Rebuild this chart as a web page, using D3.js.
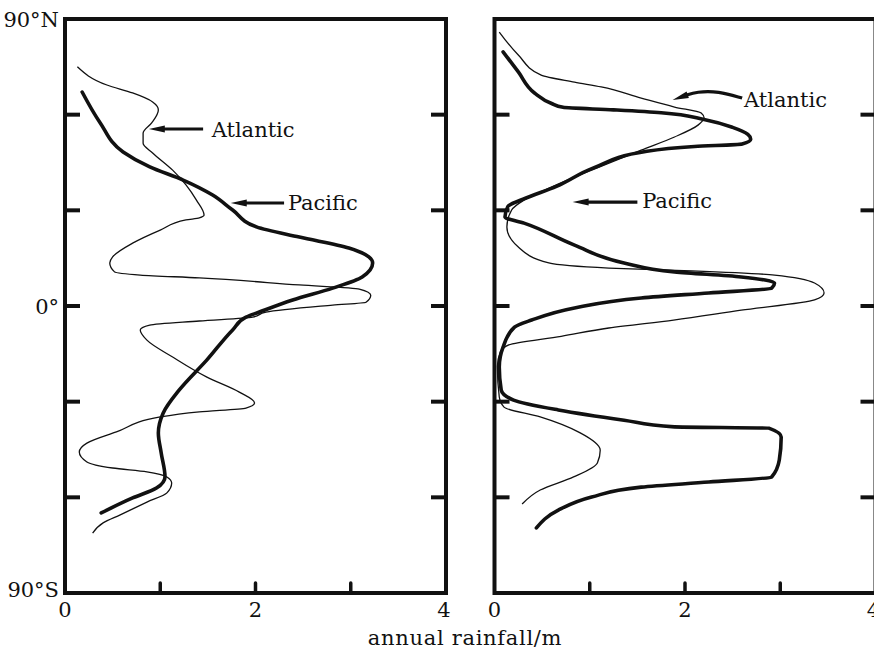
<!DOCTYPE html>
<html>
<head>
<meta charset="utf-8">
<script src="https://cdn.jsdelivr.net/npm/d3@7"></script>
<style>
  body { margin: 0; background: #fff; }
  text { font-family: "DejaVu Serif", "Liberation Serif", serif; fill: #111; }
</style>
</head>
<body>
<div id="chart"></div>
<script>
const width = 874;
const height = 652;

// ----- data: latitude (deg) and annual rainfall (m) ----- //
const leftAtlanticLat = [75, 69.3, 66.8, 64, 61.5, 57.4, 54.2, 51, 48, 42.6, 38, 33.2, 28.5, 27.6, 27, 23.8, 19.7, 15.4, 13.5, 10.7, 9.7, 8.8, 6.6, 5.3, 3.4, 1.2, 0.3, -1.9, -3.5, -4.7, -6, -7.5, -10.7, -16, -22.3, -27, -30.4, -32, -33.2, -34.8, -39.5, -43, -45.8, -48.9, -50.8, -52, -53.6, -55.5, -58.6, -61.5, -65.5, -68, -71.2];
const leftAtlantic = [0.13, 0.44, 0.71, 0.92, 0.98, 0.91, 0.82, 0.82, 0.92, 1.13, 1.27, 1.38, 1.46, 1.41, 1.27, 1.0, 0.71, 0.5, 0.47, 0.52, 0.79, 1.41, 2.46, 3.09, 3.21, 3.16, 2.81, 2.11, 1.97, 1.41, 0.89, 0.79, 0.86, 1.13, 1.49, 1.83, 1.99, 1.9, 1.41, 1.0, 0.54, 0.23, 0.15, 0.23, 0.5, 0.86, 1.07, 1.12, 1.07, 0.86, 0.58, 0.4, 0.29];

const leftPacificLat = [67.1, 57.4, 48.3, 43.6, 39.5, 34.8, 30.1, 24.8, 21.6, 18.2, 15.4, 13.5, 9.1, 5.6, 1.9, -1.9, -3.5, -7.5, -16.9, -26.3, -33.6, -39.8, -46.1, -53.6, -57.1, -60.2, -64.9];
const leftPacific = [0.18, 0.37, 0.61, 0.89, 1.24, 1.55, 1.76, 2.01, 2.46, 2.98, 3.19, 3.23, 3.12, 2.81, 2.39, 2.04, 1.9, 1.76, 1.49, 1.2, 1.03, 0.98, 1.01, 1.05, 0.96, 0.71, 0.38];

const rightAtlanticLat = [85.9, 78.7, 72.4, 70.2, 68.7, 65.2, 62.4, 60.5, 59, 56.8, 53, 48.9, 42.6, 37.3, 33.2, 30.1, 24.8, 18.5, 13.5, 11.9, 11.0, 9.7, 7.2, 4.1, 1.9, -1.3, -4.4, -6.9, -9.5, -12.2, -14.5, -19, -28.5, -31.7, -34.8, -39.8, -45.2, -49.2, -53.6, -57.7, -62.1];
const rightAtlantic = [0.05, 0.25, 0.49, 0.84, 1.12, 1.54, 1.89, 2.17, 2.2, 2.14, 1.89, 1.54, 1.02, 0.6, 0.31, 0.18, 0.13, 0.25, 0.57, 1.2, 2.07, 2.94, 3.36, 3.46, 3.36, 2.59, 1.88, 1.2, 0.7, 0.15, 0.06, 0.03, 0.05, 0.1, 0.48, 0.9, 1.11, 1.08, 0.83, 0.48, 0.29];

const rightPacificLat = [79.7, 73.4, 66.8, 63.5, 62.3, 61.5, 60.6, 58.5, 56, 53.8, 52.3, 50.8, 50.0, 48.5, 43.3, 37.5, 33.5, 31.2, 27.9, 26, 19.1, 13.5, 10.7, 9.1, 7.2, 5.6, 4.1, 2.5, -0.6, -4.4, -6.6, -12.9, -19.1, -26.3, -29.5, -32.6, -35.8, -37.9, -38.3, -41.1, -48.3, -53.6, -55.2, -56.8, -59.9, -64, -69.6];
const rightPacific = [0.09, 0.25, 0.42, 0.6, 0.72, 1.25, 1.75, 2.2, 2.5, 2.66, 2.69, 2.6, 2.1, 1.6, 1.04, 0.65, 0.3, 0.14, 0.11, 0.31, 0.84, 1.36, 1.89, 2.59, 2.94, 2.91, 2.25, 1.54, 0.84, 0.39, 0.21, 0.09, 0.05, 0.07, 0.2, 0.67, 1.36, 1.89, 2.88, 3.01, 2.99, 2.91, 2.25, 1.54, 1.02, 0.67, 0.44];

const latTicks = [60, 30, 0, -30, -60];
const latLabels = ['90°N', '0°', '90°S'];
const rainTicks = [1, 2, 3];
const rainLabels = [0, 2, 4];

// ----- layout ----- //
const plotTop = 19, plotBottom = 593, panelWidth = 381;
const panels = [
  { x0: 65, atl: [leftAtlanticLat, leftAtlantic], pac: [leftPacificLat, leftPacific], yLabels: true,
    notes: [
      { text: 'Atlantic', at: [1.54, 53], arrow: [[1.45, 55.5], [0.88, 55.5]] },
      { text: 'Pacific', at: [2.34, 30.1], arrow: [[2.30, 32.3], [1.74, 32.3]] }
    ] },
  { x0: 494.5, atl: [rightAtlanticLat, rightAtlantic], pac: [rightPacificLat, rightPacific], yLabels: false,
    notes: [
      { text: 'Atlantic', at: [2.62, 62.4], arrow: [[2.6, 65.2], [2.35, 67.4], [2.12, 67.2], [1.87, 64.6]] },
      { text: 'Pacific', at: [1.55, 30.7], arrow: [[1.5, 32.6], [0.82, 32.6]] }
    ] }
];

const svg = d3.select('#chart').append('svg')
  .attr('width', width)
  .attr('height', height);

const yScale = d3.scaleLinear().domain([90, -90]).range([plotTop, plotBottom]);

panels.forEach(drawPanel);

// shared x title
svg.append('text')
  .attr('x', 465).attr('y', 645)
  .attr('text-anchor', 'middle')
  .style('font-size', '21px')
  .style('letter-spacing', '0.7px')
  .text('annual rainfall/m');

function drawPanel(p) {
  const xScale = d3.scaleLinear().domain([0, 4]).range([p.x0, p.x0 + panelWidth]);
  const g = svg.append('g');

  // frame
  g.append('rect')
    .attr('x', xScale(0)).attr('y', yScale(90))
    .attr('width', xScale(4) - xScale(0)).attr('height', yScale(-90) - yScale(90))
    .attr('fill', 'none').attr('stroke', '#111').attr('stroke-width', 4);

  // inward ticks on the left and right edges
  latTicks.forEach(lat => {
    g.append('line')
      .attr('x1', xScale(0)).attr('x2', xScale(0) + 15)
      .attr('y1', yScale(lat)).attr('y2', yScale(lat))
      .attr('stroke', '#111').attr('stroke-width', 4);
    g.append('line')
      .attr('x1', xScale(4)).attr('x2', xScale(4) - 15)
      .attr('y1', yScale(lat)).attr('y2', yScale(lat))
      .attr('stroke', '#111').attr('stroke-width', 4);
  });

  // bottom ticks
  rainTicks.forEach(v => {
    g.append('line')
      .attr('x1', xScale(v)).attr('x2', xScale(v))
      .attr('y1', yScale(-90)).attr('y2', yScale(-90) - 10)
      .attr('stroke', '#111').attr('stroke-width', 3.5)
      .attr('stroke-linecap', 'round');
  });

  rainLabels.forEach(v => {
    g.append('text')
      .attr('x', xScale(v) - (v === 4 ? 2 : 0)).attr('y', yScale(-90) + 24)
      .attr('text-anchor', 'middle')
      .style('font-size', '21px')
      .text(v);
  });

  if (p.yLabels) {
    const lats = [90, 0, -90];
    const dys = [8, 8, 4];
    latLabels.forEach((t, i) => {
      g.append('text')
        .attr('x', xScale(0) - 6).attr('y', yScale(lats[i]) + dys[i])
        .attr('text-anchor', 'end')
        .style('font-size', '21px')
        .text(t);
    });
  }

  // rainfall profiles: x is rainfall, y is latitude
  const line = d3.line()
    .x(d => xScale(d[1]))
    .y(d => yScale(d[0]))
    .curve(d3.curveMonotoneY);

  const toPoints = ([lat, val]) => lat.map((l, i) => [l, val[i]]);

  g.append('path')
    .attr('d', line(toPoints(p.atl)))
    .attr('fill', 'none').attr('stroke', '#111').attr('stroke-width', 1.3);

  g.append('path')
    .attr('d', line(toPoints(p.pac)))
    .attr('fill', 'none').attr('stroke', '#111').attr('stroke-width', 3.6)
    .attr('stroke-linecap', 'round');

  // labels with arrows
  p.notes.forEach(n => drawNote(g, n, xScale));
}

function drawNote(g, n, xScale) {
  g.append('text')
    .attr('x', xScale(n.at[0])).attr('y', yScale(n.at[1]))
    .style('font-size', '21px')
    .text(n.text);

  const pts = n.arrow.map(d => [xScale(d[0]), yScale(d[1])]);
  const tip = pts[pts.length - 1];
  const prev = pts[pts.length - 2];
  const ang = Math.atan2(tip[1] - prev[1], tip[0] - prev[0]);
  const len = 16, hw = 3.5;
  const base = [tip[0] - len * Math.cos(ang), tip[1] - len * Math.sin(ang)];
  const shaft = pts.slice(0, -1).concat([[tip[0] - (len - 2) * Math.cos(ang), tip[1] - (len - 2) * Math.sin(ang)]]);

  g.append('path')
    .attr('d', d3.line().curve(d3.curveBasis)(shaft))
    .attr('fill', 'none').attr('stroke', '#111').attr('stroke-width', 3.2);

  const nx = -Math.sin(ang), ny = Math.cos(ang);
  g.append('path')
    .attr('d', `M${tip[0]},${tip[1]}L${base[0] + nx * hw},${base[1] + ny * hw}L${base[0] - nx * hw},${base[1] - ny * hw}Z`)
    .attr('fill', '#111');
}
</script>
</body>
</html>
